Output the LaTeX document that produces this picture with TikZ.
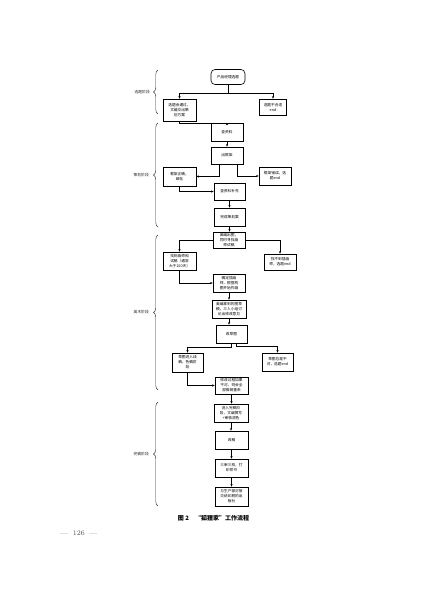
\documentclass[tikz,border=0pt]{standalone}
\usepackage{fontspec}
\newfontfamily\cjk{Noto Sans CJK SC}
\usetikzlibrary{arrows.meta,decorations.pathreplacing,calc}
\begin{document}
\begin{tikzpicture}[x=1pt,y=-1pt,
  box/.style={draw,line width=0.6pt,fill=white,inner sep=0.5pt,align=center,
    font=\cjk\fontsize{3.7}{5}\selectfont},
  startbox/.style={box,rounded corners=4pt},
  arr/.style={line width=0.55pt,-{Stealth[length=2.6pt,width=2.2pt]}},
  ln/.style={line width=0.55pt},
  brc/.style={decorate,decoration={brace,amplitude=4.5pt},line width=0.45pt,draw=black!80},
  phase/.style={font=\cjk\fontsize{3.8}{4.5}\selectfont,anchor=east,inner sep=0pt,text=black!85}]
\useasboundingbox (0,0) rectangle (427,603);

% phase 1
\node[startbox,minimum width=34pt,minimum height=15pt] (s) at (228,77) {产品经理选题};
\node[box,minimum width=33pt,minimum height=22pt] (a1) at (179.5,110) {选题会通过，\\文编交出策\\划方案};
\node[box,minimum width=27pt,minimum height=16pt] (a2) at (273,107) {选题不合适\\end};
\coordinate (j1) at (228,93);
\draw[ln] (s.south) -- (j1);
\draw[arr] (j1) -| (a1.north);
\draw[arr] (j1) -| (a2.north);

% phase 2
\node[box,minimum width=32pt,minimum height=18pt] (b1) at (227,132) {查资料};
\node[box,minimum width=32pt,minimum height=17pt] (b2) at (227,155.5) {出框架};
\node[box,minimum width=33pt,minimum height=19pt] (b3) at (179.5,176.5) {框架正确，\\细化};
\node[box,minimum width=32pt,minimum height=18pt] (b4) at (275,176) {框架错误，选\\题end};
\node[box,minimum width=31pt,minimum height=17pt] (b5) at (229.5,191.5) {查资料补充};
\node[box,minimum width=31pt,minimum height=18pt] (b6) at (229.5,217) {完成策划案};
\draw[arr] (a1.south) -- ++(0,1.5) -| (b1.north);
\draw[arr] (b1.south) -- (b2.north);
\draw[arr] ($(b2.south)+(-8,0)$) |- (b3.east);
\draw[arr] ($(b2.south)+(10,0)$) |- (b4.west);
\draw[arr] (b3.south) |- (b5.west);
\draw[arr] (b5.south) -- (b5.south |- b6.north);

% phase 3
\node[box,minimum width=32pt,minimum height=16pt] (c1) at (229,240) {美编出图，\\同时寻找画\\师试稿};
\node[box,minimum width=33pt,minimum height=18pt] (c2) at (179.5,261) {找到画师和\\试稿（通常\\大于100天）};
\node[box,minimum width=32pt,minimum height=16pt] (c3) at (280,262) {找不到插画\\师，选题end};
\node[box,minimum width=32pt,minimum height=18pt] (c4) at (229,283) {确定插画\\师，根据构\\图开始作画};
\node[box,minimum width=34pt,minimum height=18pt] (c5) at (229,309) {美编拿到的图草\\稿，三人小组讨\\论出修改意见};
\node[box,minimum width=31pt,minimum height=18pt] (c6) at (231.5,334) {改草图};
\node[box,minimum width=31pt,minimum height=19pt] (c7) at (187.5,362.5) {草图进入线\\稿、色稿阶\\段};
\node[box,minimum width=31pt,minimum height=18pt] (c8) at (277.5,362) {草图总是不\\对，选题end};
\node[box,minimum width=33pt,minimum height=17pt] (c9) at (231.5,385.5) {修改过程如果\\不对，则会全\\部推倒重来};
\draw[arr] (b6.south) -- (b6.south |- c1.north);
\draw[arr] (c1.west) -| (c2.north);
\draw[arr] (c1.east) -| (c3.north);
\draw[arr] (c2.south) |- (c4.west);
\draw[arr] (c4.south) -- (c4.south |- c5.north);
\draw[arr] (c5.south) -- (c5.south |- c6.north);
\coordinate (j2) at (231.5,347);
\draw[arr] (c6.south) -- (j2) -| (c7.north);
\draw[arr] ($(c6.south)+(5,0)$) -- ++(0,3) -| (c8.north);
\draw[arr] (c7.south) |- (c9.west);

% phase 4
\node[box,minimum width=34pt,minimum height=18pt] (d1) at (231,413) {进入完稿阶\\段，文编撰写\\+审核润色};
\node[box,minimum width=33pt,minimum height=18pt] (d2) at (231.5,440) {改稿};
\node[box,minimum width=33pt,minimum height=18pt] (d3) at (231.5,468) {三审三校，打\\印样书};
\node[box,minimum width=33pt,minimum height=19pt] (d4) at (231.5,496.5) {与生产部对接\\交给印刷的出\\版社};
\draw[arr] (c9.south) -- (c9.south |- d1.north);
\draw[arr] (d1.south) -- (d1.south |- d2.north);
\draw[arr] (d2.south) -- (d2.south |- d3.north);
\draw[arr] (d3.south) -- (d3.south |- d4.north);

% braces and phase labels
\draw[brc] (158,114) -- (158,70);
\draw[brc] (158,227) -- (158,123);
\draw[brc] (158,390) -- (158,235);
\draw[brc] (158,506) -- (158,402);
\node[phase] (p1) at (150,92) {选题阶段};
\node[phase] (p2) at (149,175) {策划阶段};
\node[phase] (p3) at (149,312.5) {美术阶段};
\node[phase] (p4) at (149,454) {完稿阶段};

% caption and page number
\node[font=\cjk\bfseries\fontsize{6}{7}\selectfont,inner sep=0pt] (cap) at (213.5,518) {图 2\quad “狐狸家”工作流程};
\node[font=\rmfamily\fontsize{7}{8}\selectfont,text=black!70,inner sep=0pt,anchor=west] (pg) at (60,533) {—\; 126\; —};
\end{tikzpicture}
\end{document}
